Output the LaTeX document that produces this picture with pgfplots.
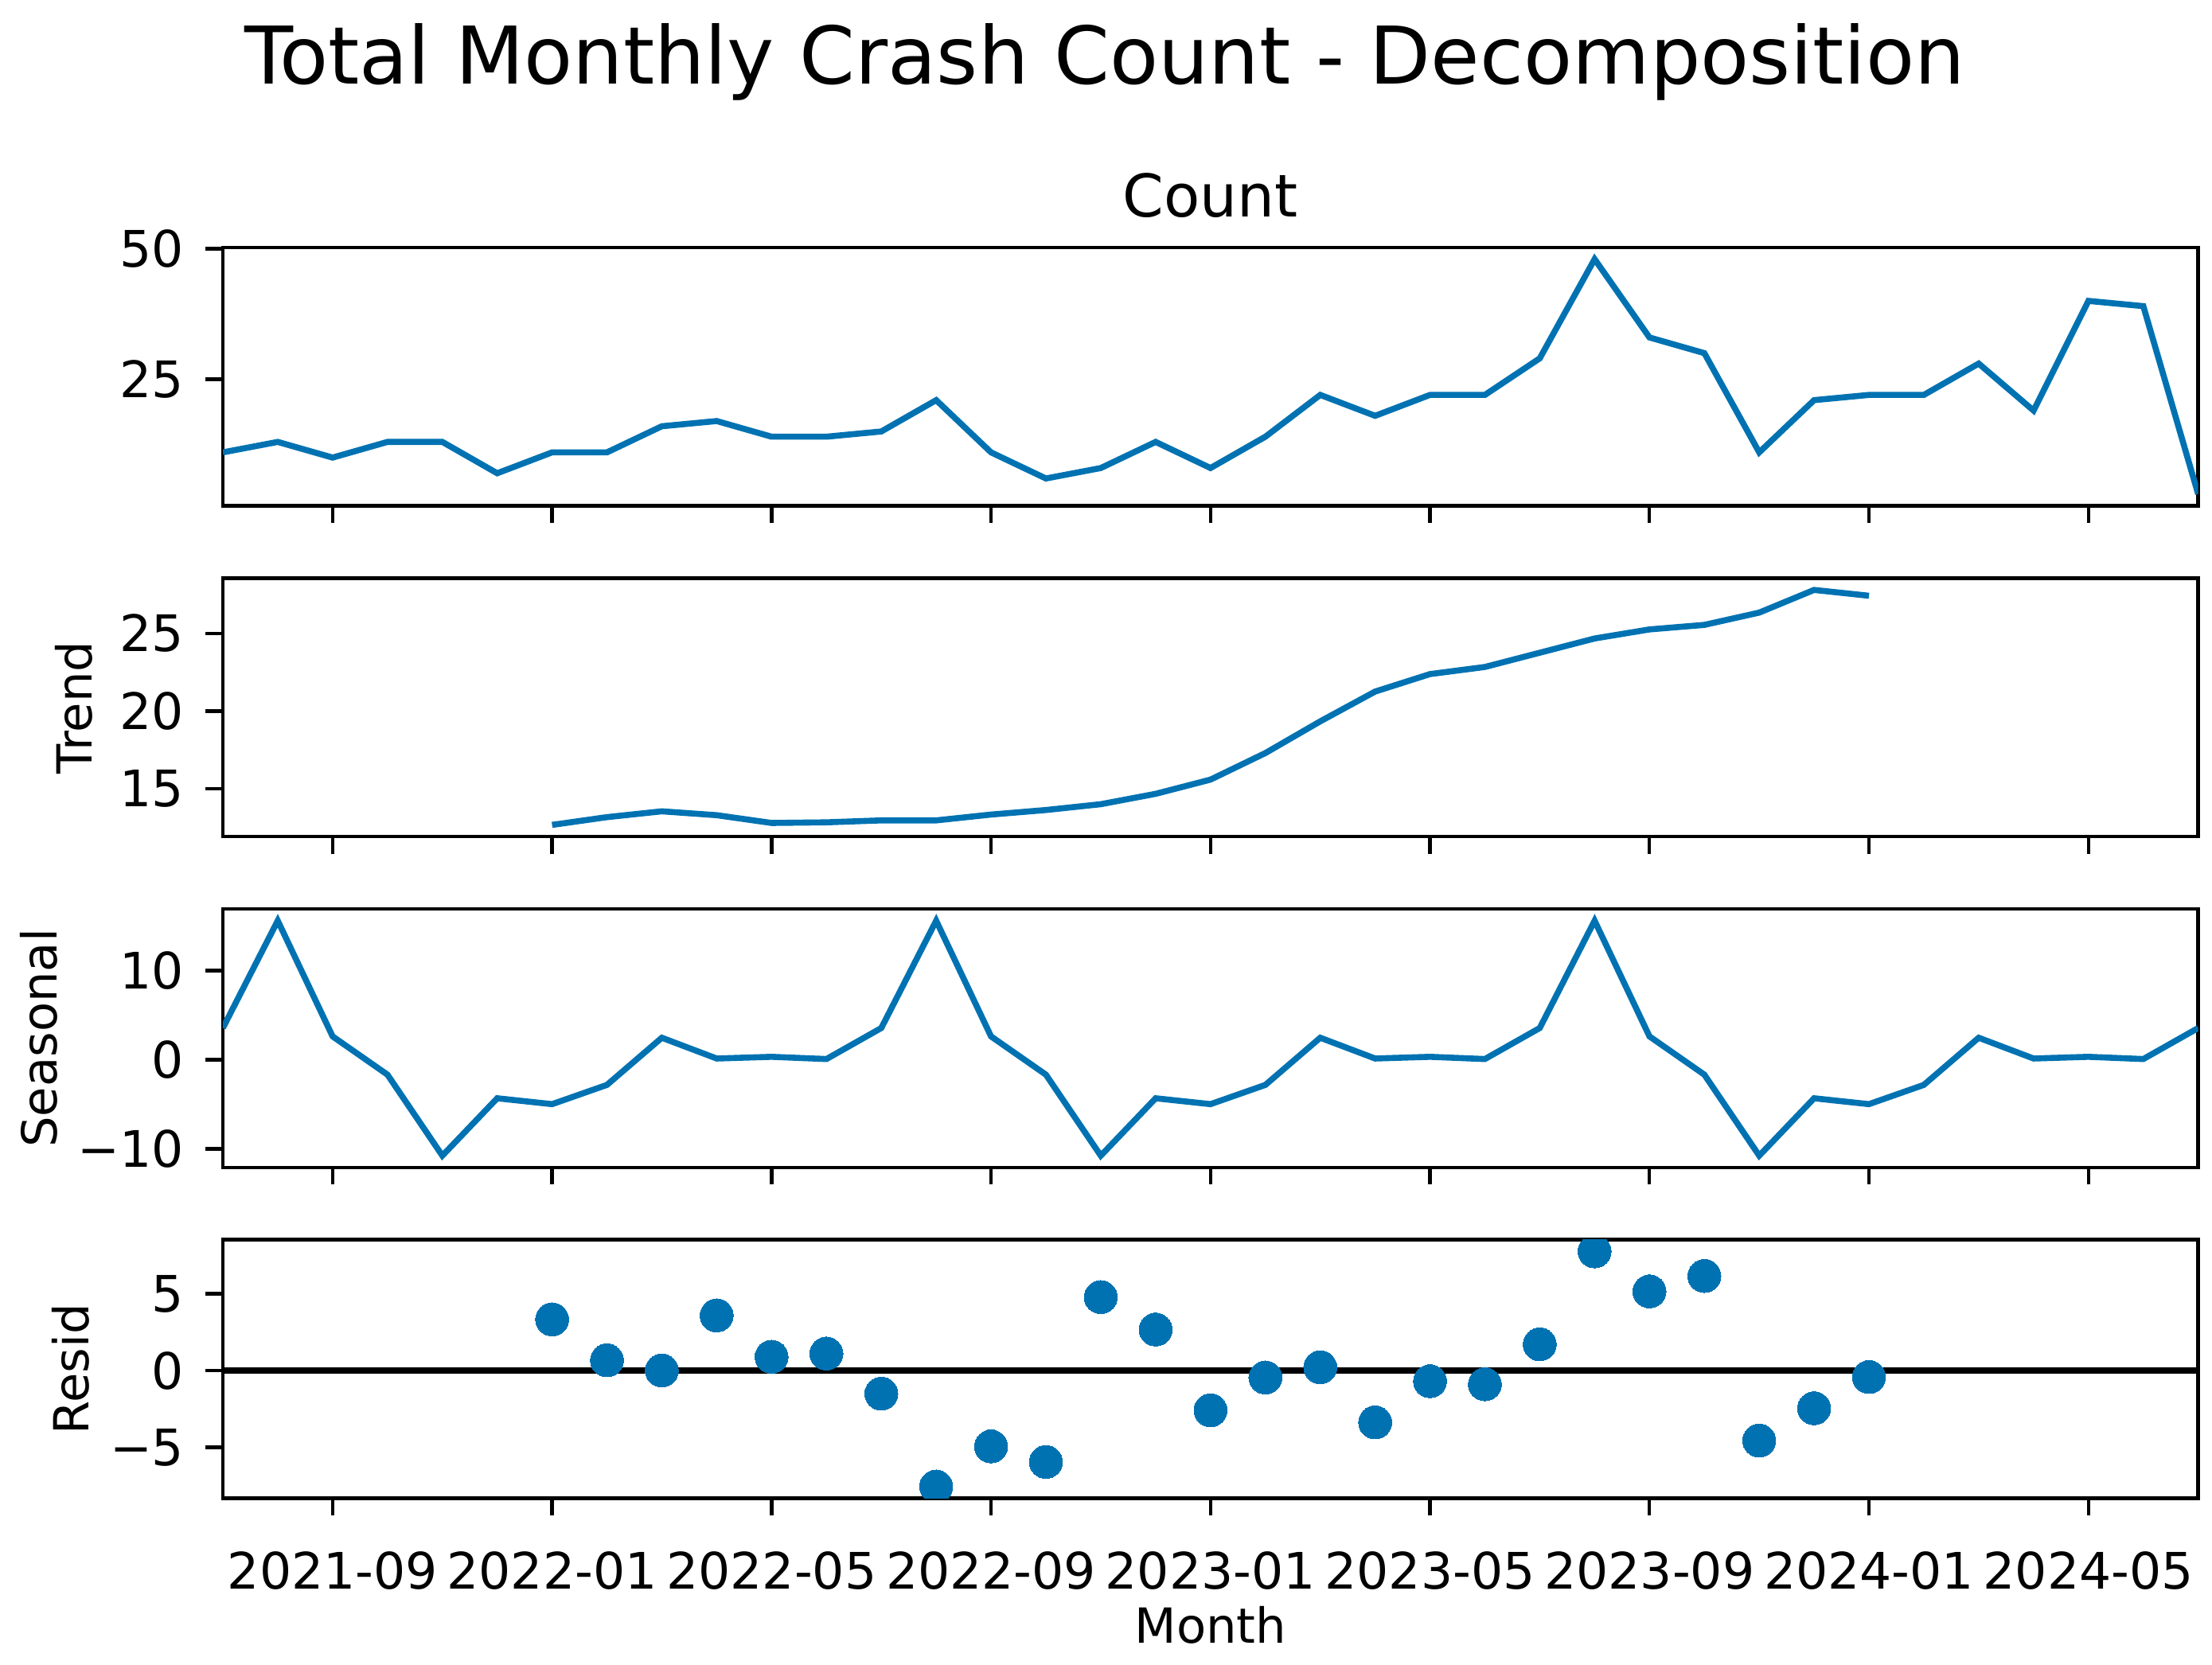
\documentclass[border=0pt]{standalone}
\usepackage{fontspec}
\setmainfont{DejaVu Sans}
\usepackage{pgfplots}
\pgfplotsset{compat=1.18}
\definecolor{sblue}{HTML}{0072B2}
\pgfplotsset{
  decomp/.style={
    scale only axis, width=620.4pt, height=81.2pt,
    xmin=0, xmax=36, enlarge x limits=false,
    axis line style={line width=1.1pt},
    every tick/.style={black, line width=1.1pt},
    major tick length=5.4pt,
    tick align=outside,
    tick pos=left,
    xtick={2,6,10,14,18,22,26,30,34},
    ticklabel style={font=\fontsize{15.8}{19}\selectfont},
    xticklabel style={anchor=base, yshift=-23.2pt, inner sep=0pt},
    yticklabel style={anchor=east, xshift=-6.6pt, inner sep=0pt},
    label style={font=\fontsize{15.2}{18}\selectfont},
    /pgf/number format/assume math mode=true,
    clip marker paths=true,
  }
}
\begin{document}
\begin{tikzpicture}
\useasboundingbox (0,0) rectangle (694.75pt,-522.75pt);
\node[anchor=base, font=\fontsize{25}{30}\selectfont] at (347pt,-26.4pt) {Total Monthly Crash Count - Decomposition};

% Observed
\begin{axis}[decomp, at={(70pt,-77.7pt)}, anchor=north west,
  ymin=0.75, ymax=50.25, ytick={25,50}, yticklabels={25,50},
  xticklabels={},
  title={Count},
  title style={at={(0.5,1)}, anchor=base, yshift=3.5pt, font=\fontsize{18.5}{22}\selectfont}]
\addplot[sblue, line width=1.9pt] coordinates {
(0,11) (1,13) (2,10) (3,13) (4,13) (5,7) (6,11) (7,11) (8,16) (9,17) (10,14) (11,14)
(12,15) (13,21) (14,11) (15,6) (16,8) (17,13) (18,8) (19,14) (20,22) (21,18) (22,22) (23,22)
(24,29) (25,48) (26,33) (27,30) (28,11) (29,21) (30,22) (31,22) (32,28) (33,19) (34,40) (35,39) (36,3)};
\end{axis}

% Trend
\begin{axis}[decomp, at={(70pt,-181.6pt)}, anchor=north west,
  ymin=11.91, ymax=28.55, ytick={15,20,25}, yticklabels={15,20,25},
  xticklabels={},
  ylabel={Trend}, ylabel style={at={([xshift=-41pt]rel axis cs:0,0.5)}, anchor=base}]
\addplot[sblue, line width=1.9pt] coordinates {
(6,12.667) (7,13.167) (8,13.542) (9,13.292) (10,12.792) (11,12.833) (12,12.958) (13,12.958)
(14,13.333) (15,13.625) (16,14.0) (17,14.667) (18,15.583) (19,17.292) (20,19.333) (21,21.25)
(22,22.375) (23,22.833) (24,23.75) (25,24.667) (26,25.25) (27,25.542) (28,26.333) (29,27.792) (30,27.417)};
\end{axis}

% Seasonal
\begin{axis}[decomp, at={(70pt,-285.5pt)}, anchor=north west,
  ymin=-12.10, ymax=16.90, ytick={-10,0,10}, yticklabels={−10,0,10},
  xticklabels={},
  ylabel={Seasonal}, ylabel style={at={([xshift=-52.1pt]rel axis cs:0,0.5)}, anchor=base}]
\addplot[sblue, line width=1.9pt] coordinates {
(0,3.54) (1,15.58) (2,2.60) (3,-1.69) (4,-10.78) (5,-4.34) (6,-5.00) (7,-2.84) (8,2.45) (9,0.12) (10,0.31) (11,0.06)
(12,3.54) (13,15.58) (14,2.60) (15,-1.69) (16,-10.78) (17,-4.34) (18,-5.00) (19,-2.84) (20,2.45) (21,0.12) (22,0.31) (23,0.06)
(24,3.54) (25,15.58) (26,2.60) (27,-1.69) (28,-10.78) (29,-4.34) (30,-5.00) (31,-2.84) (32,2.45) (33,0.12) (34,0.31) (35,0.06)
(36,3.54)};
\end{axis}

% Resid
\begin{axis}[decomp, at={(70pt,-389.4pt)}, anchor=north west,
  ymin=-8.30, ymax=8.51, ytick={-5,0,5}, yticklabels={−5,0,5},
  xticklabels={2021-09,2022-01,2022-05,2022-09,2023-01,2023-05,2023-09,2024-01,2024-05},
  xlabel={Month}, xlabel style={at={(rel axis cs:0.5,0)}, anchor=base, yshift=-45.4pt},
  ylabel={Resid}, ylabel style={at={([xshift=-42.1pt]rel axis cs:0,0.5)}, anchor=base}]
\addplot[black, line width=2.2pt] coordinates {(0,0) (36,0)};
\addplot[only marks, sblue, mark=*, mark size=5.2pt, mark options={solid, fill=sblue, draw=sblue, line width=0pt}] coordinates {
(6,3.33) (7,0.67) (8,0.01) (9,3.59) (10,0.90) (11,1.11) (12,-1.50) (13,-7.54) (14,-4.93) (15,-5.94)
(16,4.78) (17,2.67) (18,-2.58) (19,-0.45) (20,0.22) (21,-3.37) (22,-0.69) (23,-0.89) (24,1.71)
(25,7.75) (26,5.15) (27,6.15) (28,-4.55) (29,-2.45) (30,-0.42)};
\end{axis}
\end{tikzpicture}
\end{document}
